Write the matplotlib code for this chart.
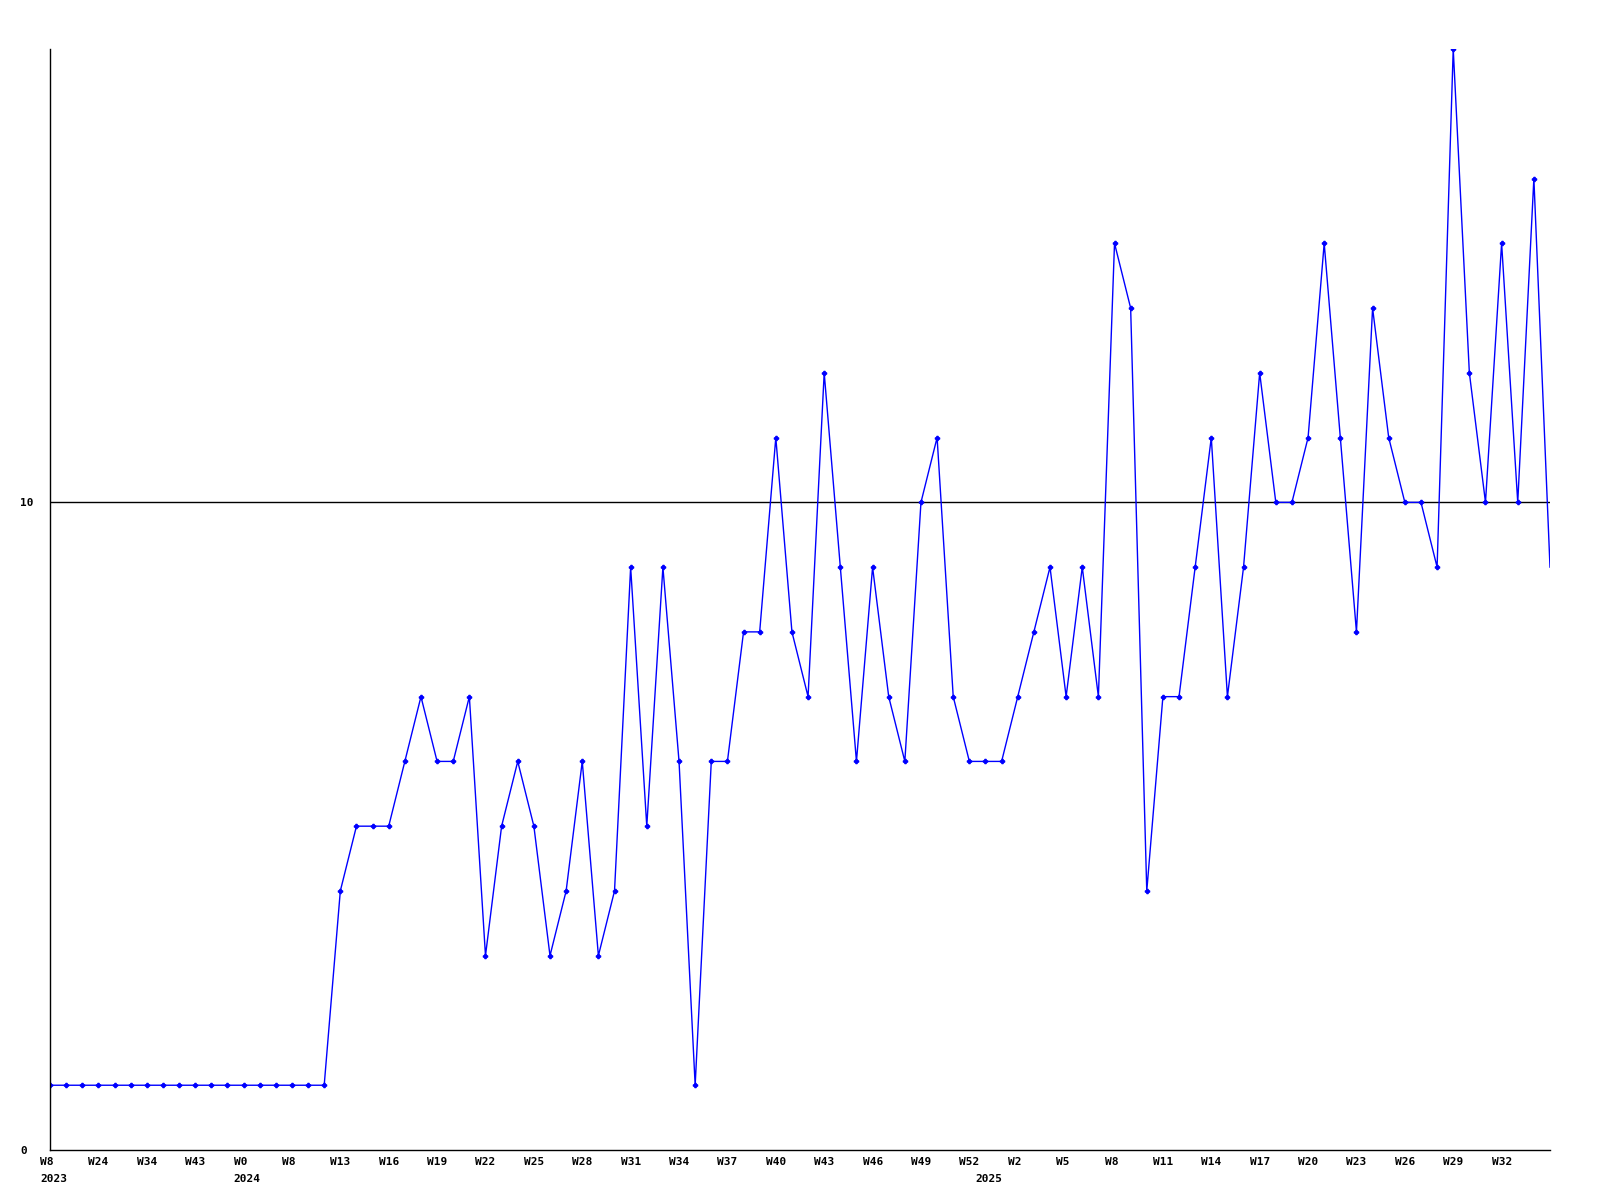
"""
plot.py - weekly count line chart (W8 2023 .. W33 2025).
"""

import matplotlib
matplotlib.use("Agg")
import matplotlib.pyplot as plt
from matplotlib.transforms import ScaledTranslation, blended_transform_factory

# one value per data point, points are equally spaced
counts = [1, 1, 1, 1, 1, 1, 1, 1, 1, 1, 1, 1, 1, 1, 1, 1, 1, 1,
          4, 5, 5, 5, 6, 7, 6, 6, 7, 3, 5, 6, 5, 3, 4, 6, 3, 4,
          9, 5, 9, 6, 1, 6, 6, 8, 8, 11, 8, 7, 12, 9, 6, 9, 7, 6,
          10, 11, 7, 6, 6, 6, 7, 8, 9, 7, 9, 7, 14, 13, 4, 7, 7, 9,
          11, 7, 9, 12, 10, 10, 11, 14, 11, 8, 13, 11, 10, 10, 9, 17,
          12, 10, 14, 10, 15, 9]

# a week label every third point
week_labels = ["W8", "W24", "W34", "W43", "W0", "W8", "W13",
               "W16", "W19", "W22", "W25", "W28", "W31", "W34", "W37",
               "W40", "W43", "W46", "W49", "W52", "W2", "W5", "W8",
               "W11", "W14", "W17", "W20", "W23", "W26", "W29", "W32"]
tick_step = 3

# year labels and the point where each year starts
year_labels = ["2023", "2024", "2025"]
year_index = [0, 12, 58]

y_ticks = [0, 10]

fig = plt.figure(figsize=(16, 12), dpi=100)
ax = fig.add_axes([50 / 1600, 1 - 1150 / 1200, 1500 / 1600, 1101 / 1200])

x = list(range(len(counts)))
ax.plot(x, counts, color="#0000ff", lw=1.0, marker="P", markersize=3,
        markevery=slice(0, len(counts) - 1))
ax.axhline(10, color="black", lw=1.0, zorder=0)

ax.set_xlim(0, len(counts) - 1)
ax.set_ylim(0, 17)

for side in ["top", "right"]:
    ax.spines[side].set_visible(False)
for side in ["left", "bottom"]:
    ax.spines[side].set_linewidth(1.0)

font = dict(family="DejaVu Sans Mono", weight="bold", size=8)

# x labels: left edge sits 10px left of the point
ax.set_xticks([])
base = blended_transform_factory(ax.transData, ax.transAxes)
week_trans = base + ScaledTranslation(-10 / 100, -7 / 100, fig.dpi_scale_trans)
year_trans = base + ScaledTranslation(-10 / 100, -24 / 100, fig.dpi_scale_trans)
for i, lbl in enumerate(week_labels):
    ax.text(x[i * tick_step], 0, lbl, transform=week_trans, ha="left",
            va="top", **font)
for idx, lbl in zip(year_index, year_labels):
    ax.text(x[idx], 0, lbl, transform=year_trans, ha="left", va="top", **font)

ax.set_yticks(y_ticks)
ax.set_yticklabels([str(v) for v in y_ticks], ha="left", **font)
ax.tick_params(axis="both", length=0)
ax.tick_params(axis="y", pad=21.6)

fig.savefig("out.png", dpi=100)
